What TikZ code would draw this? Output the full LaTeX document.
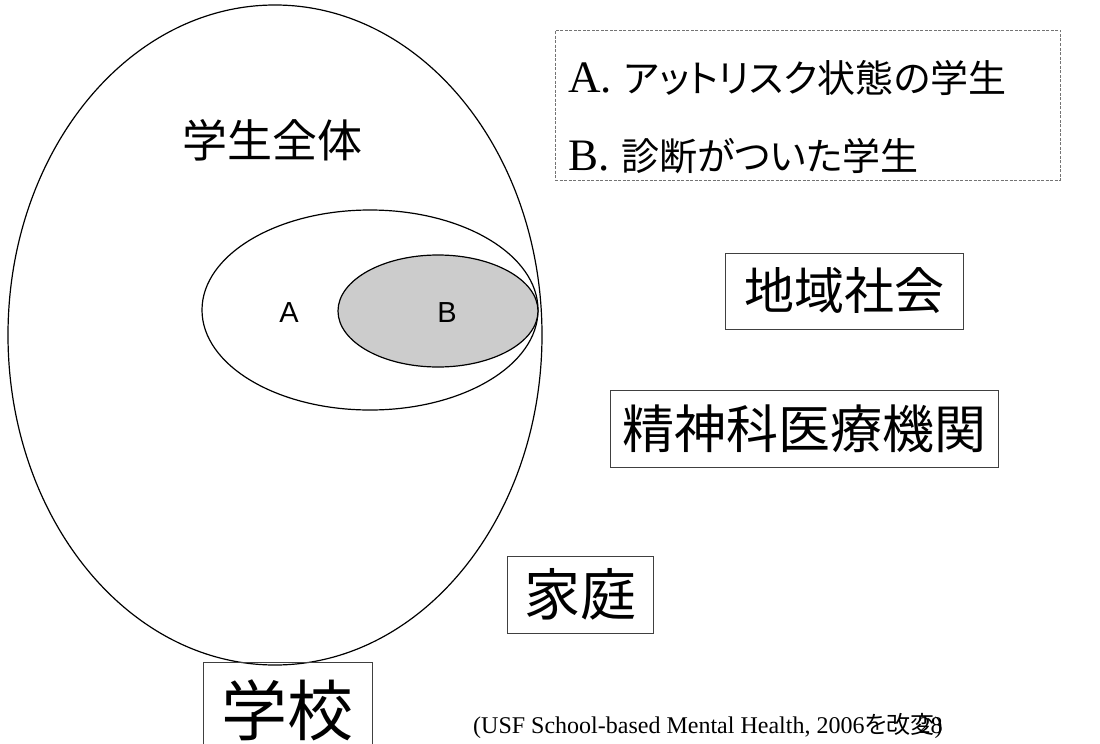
\documentclass[tikz,border=0pt]{standalone}
\usepackage{fontspec}
\setmainfont{Liberation Serif}
\newfontfamily\jp[RawFeature=+palt]{Noto Sans CJK JP}
\newfontfamily\sanslat{Liberation Sans}
\usetikzlibrary{shapes.geometric}
\begin{document}
\begin{tikzpicture}[x=1pt,y=-1pt,
  ell/.style={ellipse,draw=black,line width=1.2pt,inner sep=0pt},
  labbox/.style={draw=black!75,line width=0.8pt,inner sep=0pt,rectangle},
  fs/.style={font=\fontsize{#1}{#1}\selectfont\jp}]
\useasboundingbox (0,0) rectangle (1100,744);
\clip (0,0) rectangle (1100,744);
\fill[white] (0,0) rectangle (1100,744);
% ellipses
\node[ell,minimum width=534pt,minimum height=660pt] (all) at (275,335) {};
\node[ell,minimum width=336pt,minimum height=200pt] (atrisk) at (370,310) {};
\node[ell,fill=black!20,minimum width=200pt,minimum height=112pt] (diag) at (438,311) {};
\node[font=\fontsize{29}{29}\selectfont\sanslat] (lA) at (289,313) {A};
\node[font=\fontsize{29}{29}\selectfont\sanslat] (lB) at (447,313) {B};
\node[fs=45] (whole) at (272,140) {学生全体};
% legend
\node[draw=black!55,line width=0.6pt,dash pattern=on 3pt off 1.5pt,rectangle,
      minimum width=505pt,minimum height=150pt,inner sep=0pt] (legend) at (807.5,105) {};
\node[anchor=base west,font=\fontsize{45}{45}\selectfont,inner sep=0pt] (legA) at (568,92)
  {A.\hspace{12pt}{\fontsize{38}{38}\selectfont\jp アットリスク状態の学生}};
\node[anchor=base west,font=\fontsize{45}{45}\selectfont,inner sep=0pt] (legB) at (568,170)
  {B.\hspace{12pt}{\fontsize{38}{38}\selectfont\jp 診断がついた学生}};
% boxes
\node[labbox,fs=50,minimum width=238pt,minimum height=76pt] (community) at (844,291) {地域社会};
\node[labbox,fs=52,minimum width=388pt,minimum height=77pt] (psych) at (804,428.5) {精神科医療機関};
\node[labbox,fs=56,minimum width=146pt,minimum height=77pt] (family) at (580,594.5) {家庭};
\draw[draw=black!75,line width=0.8pt] (203,770) -- (203,662) -- (372,662) -- (372,770);
\node[fs=66] (school) at (287.5,710) {学校};
% citation
\node[anchor=base west,inner sep=0pt,font=\fontsize{24}{24}\selectfont] (cite) at (473,733)
  {(USF School-based Mental Health, 2006{\jp を改変})};
\node[anchor=base east,inner sep=0pt,font=\fontsize{24}{24}\selectfont] (pnum) at (cite.base east) {28};
\end{tikzpicture}
\end{document}
